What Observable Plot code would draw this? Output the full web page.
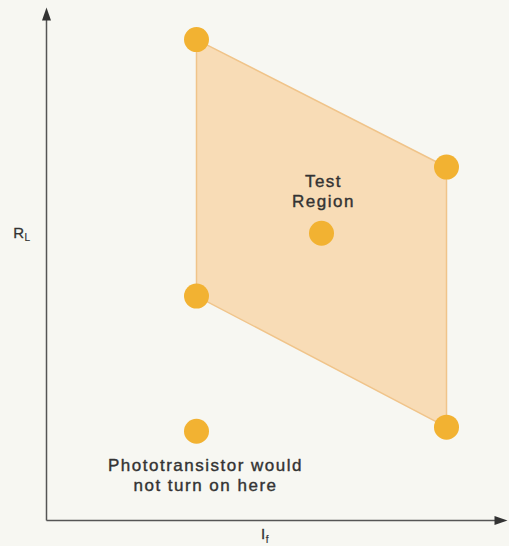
<!DOCTYPE html>
<html>
<head>
<meta charset="utf-8">
<script src="https://cdn.jsdelivr.net/npm/d3@7"></script>
<script src="https://cdn.jsdelivr.net/npm/@observablehq/plot@0.6"></script>
<style>
  html, body { margin: 0; padding: 0; background: #f7f7f2; }
</style>
</head>
<body>
<div id="chart"></div>
<script>
// Test points (If, RL) in arbitrary units
const pointIf = [1.2, 3.2, 2.2, 1.2, 3.2, 1.2];
const pointRL = [9.375, 6.89, 5.6, 4.375, 1.82, 1.74];
// Test region corners (parallelogram): upper and lower edges
const regionIf = [1.2, 3.2];
const regionTopRL = [9.375, 6.89];
const regionBottomRL = [4.375, 1.82];
// Labels
const noteTexts = ["Test\nRegion", "Phototransistor would\nnot turn on here"];
const noteIf = [2.216, 1.272];
const noteRL = [6.43, 0.9];
const axisLabelMain = ["R", "I"];
const axisLabelSub = ["L", "f"];
const axisLabelIf = [-0.18, 1.75];
const axisLabelRL = [5.6, -0.27];
const xMax = 3.688, yMax = 10;

const points = pointIf.map((x, i) => ({x, y: pointRL[i]}));
const band = regionIf.map((x, i) => ({x, y1: regionBottomRL[i], y2: regionTopRL[i]}));
const outline = [
  {x: regionIf[0], y: regionTopRL[0]},
  {x: regionIf[1], y: regionTopRL[1]},
  {x: regionIf[1], y: regionBottomRL[1]},
  {x: regionIf[0], y: regionBottomRL[0]},
  {x: regionIf[0], y: regionTopRL[0]}
];
const notes = noteTexts.map((t, i) => ({t, x: noteIf[i], y: noteRL[i]}));
const labels = axisLabelMain.map((t, i) => ({t, s: axisLabelSub[i], x: axisLabelIf[i], y: axisLabelRL[i]}));

const arrowHead = {
  draw(context) {
    context.moveTo(0, 0);
    context.lineTo(-4.5, 13);
    context.lineTo(4.5, 13);
    context.closePath();
  }
};

const axisColor = "#555";
const textColor = "#333";
const chart = Plot.plot({
  width: 509,
  height: 546,
  marginLeft: 46,
  marginRight: 2,
  marginTop: 7,
  marginBottom: 26,
  x: {domain: [0, xMax], axis: null},
  y: {domain: [0, yMax], axis: null},
  style: {background: "#f7f7f2", fontFamily: "'Liberation Sans', Arial, sans-serif", overflow: "visible"},
  marks: [
    Plot.areaY(band, {x: "x", y1: "y1", y2: "y2", fill: "#f8dcb6", stroke: "none"}),
    Plot.line(outline, {x: "x", y: "y", stroke: "#f0c48a", strokeWidth: 1.5}),
    Plot.link([{x1: 0, y1: 0, x2: 0, y2: yMax - 0.2}, {x1: 0, y1: 0, x2: xMax - 0.1, y2: 0}],
      {x1: "x1", y1: "y1", x2: "x2", y2: "y2", stroke: axisColor, strokeWidth: 1.5}),
    Plot.dot([{x: 0, y: yMax, r: 0}, {x: xMax, y: 0, r: 90}],
      {x: "x", y: "y", rotate: "r", symbol: arrowHead, r: 3, fill: "#333", stroke: "none"}),
    Plot.dot(points, {x: "x", y: "y", r: 12.5, fill: "#f2b232", stroke: "none"}),
    Plot.text(notes, {x: "x", y: "y", text: "t", fontSize: 17, lineHeight: 1.18, fill: textColor,
      stroke: textColor, strokeWidth: 0.4, textAnchor: "middle"}),
    Plot.text(labels, {x: "x", y: "y", text: "t", fontSize: 15, fill: textColor, stroke: textColor, strokeWidth: 0.3, textAnchor: "end"}),
    Plot.text(labels, {x: "x", y: "y", text: "s", fontSize: 10, fill: textColor, stroke: textColor, strokeWidth: 0.2, textAnchor: "start", dx: 0.5, dy: 5})
  ]
});
chart.querySelectorAll('[font-size="17"]').forEach(g => { g.style.letterSpacing = "1.5px"; });
document.getElementById("chart").appendChild(chart);
</script>
</body>
</html>
